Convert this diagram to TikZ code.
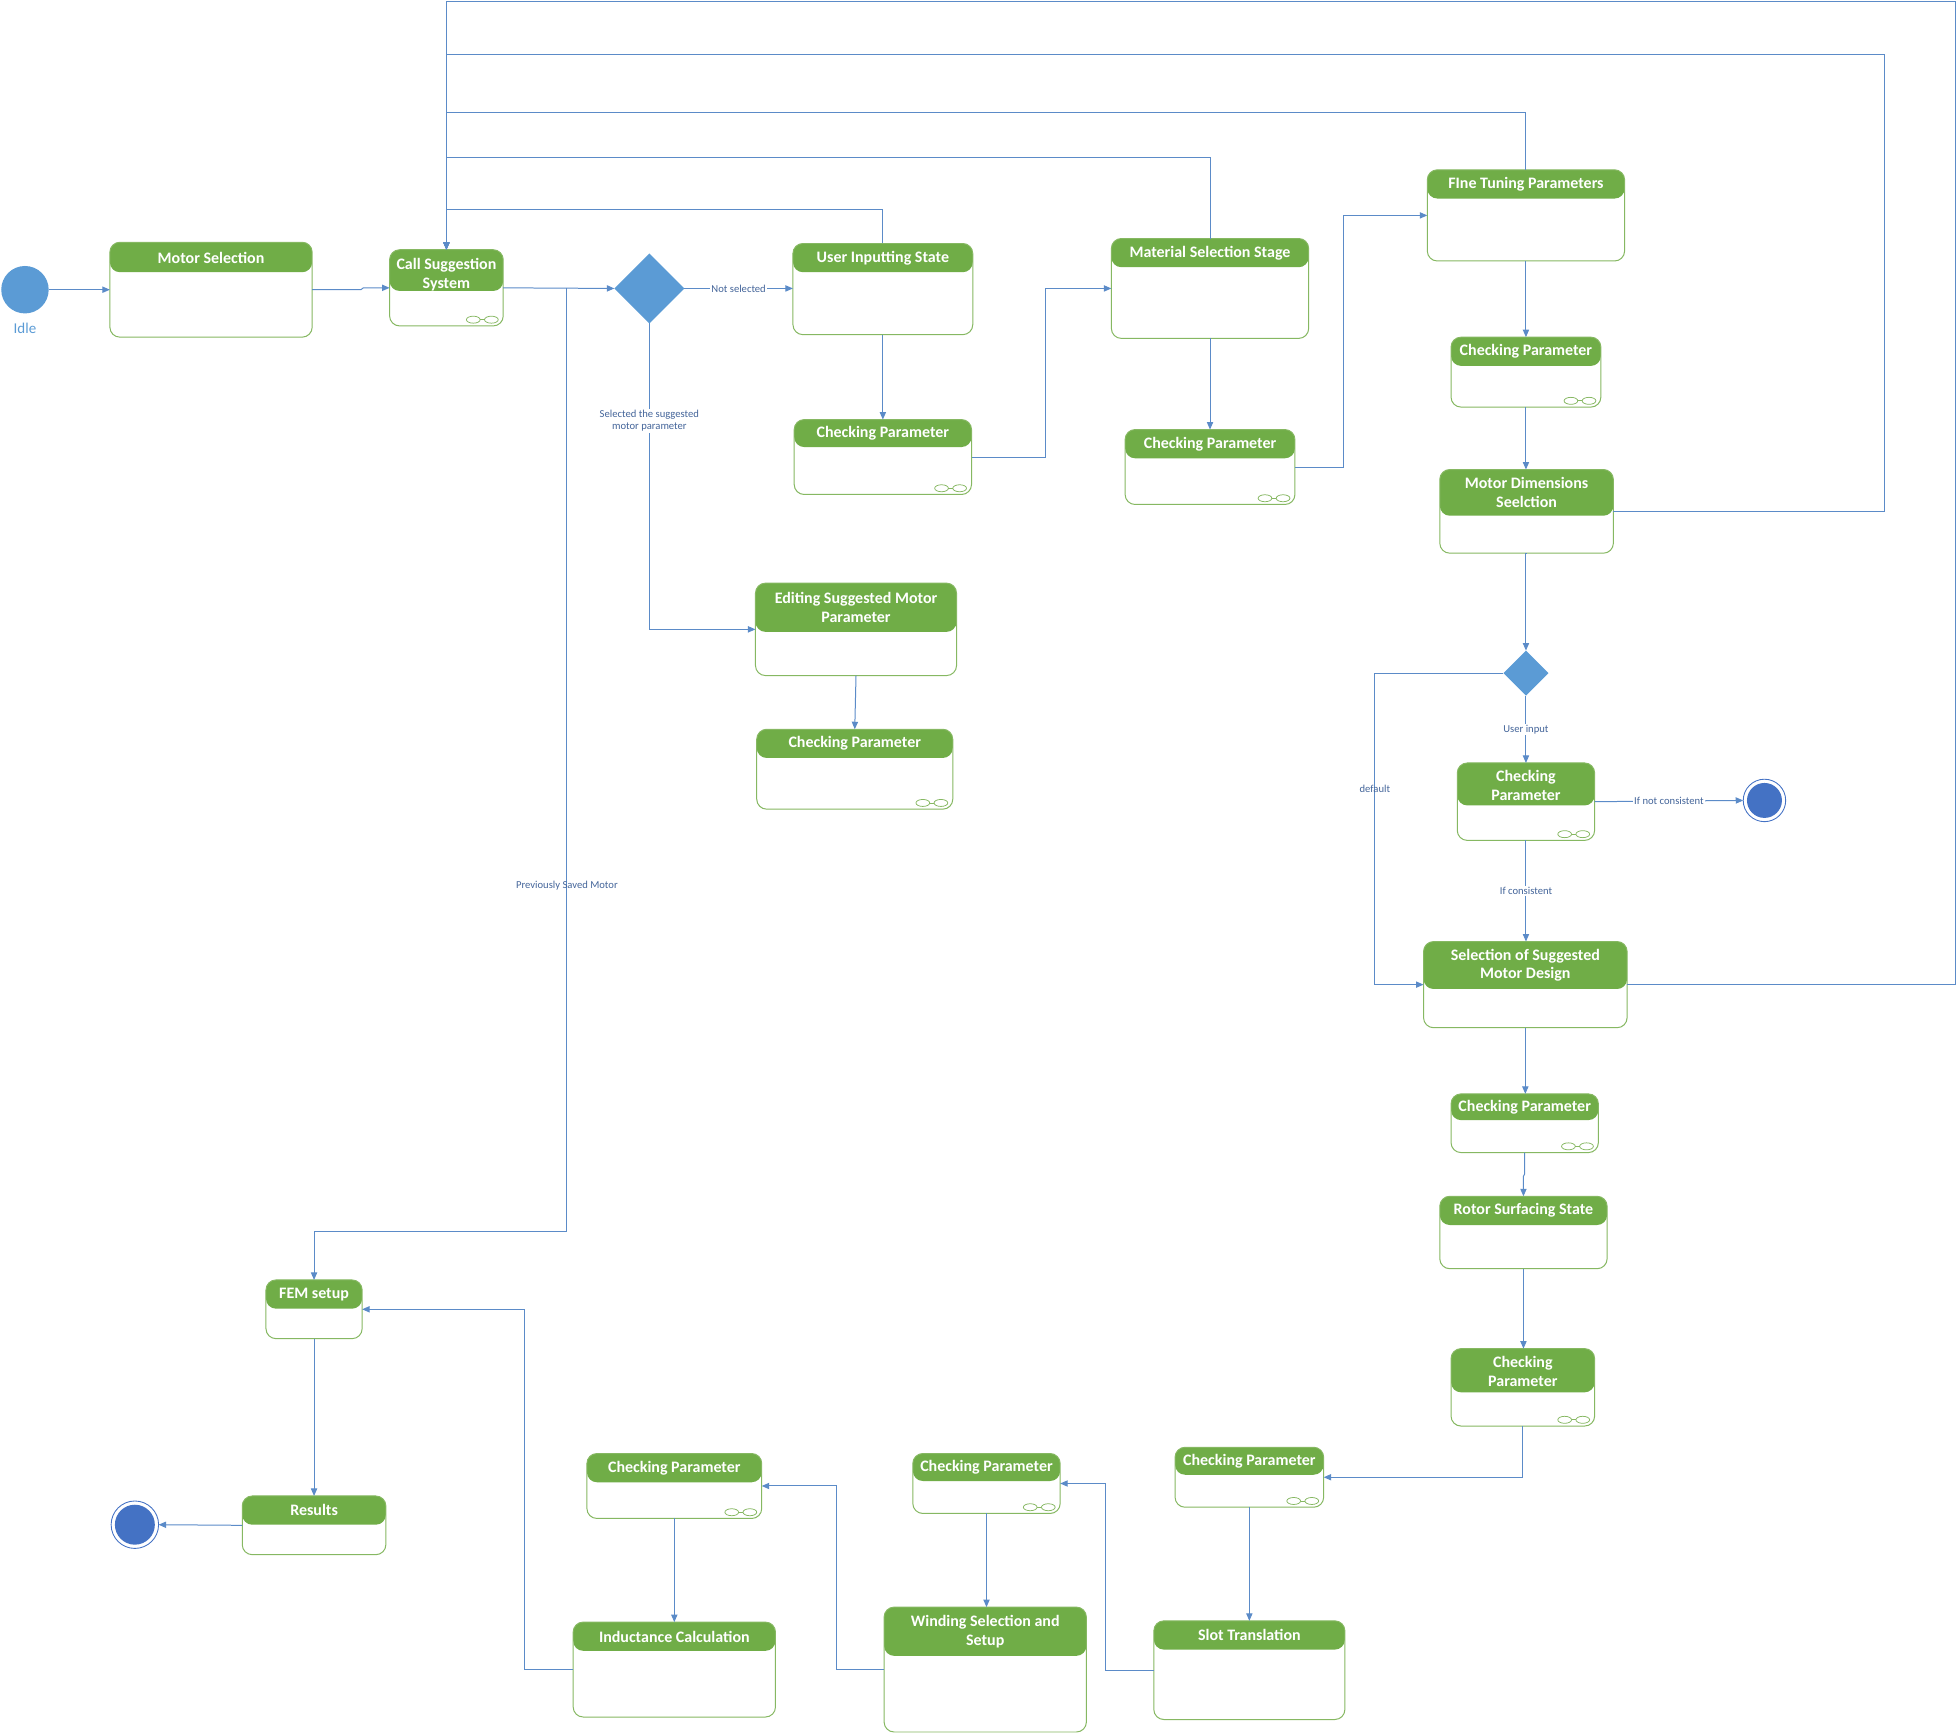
\documentclass[tikz,border=0pt]{standalone}
\usepackage{fontspec}
\setmainfont{Carlito}
\usetikzlibrary{arrows.meta,shapes.geometric,calc}
\definecolor{grn}{HTML}{70AD47}
\definecolor{grnb}{HTML}{86B862}
\definecolor{lnb}{HTML}{5B8BC8}
\definecolor{lbt}{HTML}{44659A}
\definecolor{idleb}{HTML}{5B9BD5}
\definecolor{finb}{HTML}{4472C4}
\tikzset{
  stbox/.style={draw=grnb, line width=0.8pt, rounded corners=8pt, fill=white, inner sep=0pt, outer sep=0pt, anchor=north west},
  sttitle/.style={text=white, font=\fontsize{12.8}{15}\selectfont\bfseries, align=center, inner sep=0pt},
  arr/.style={draw=lnb, line width=0.8pt, -{Triangle[length=6pt,width=5pt]}},
  lbl/.style={text=lbt, font=\fontsize{8.5}{10}\selectfont, align=center, inner sep=1pt},
  lblw/.style={lbl, fill=white},
  icn/.style={draw=grnb, line width=0.6pt},
  dec/.style={diamond, fill=idleb, inner sep=0pt, outer sep=0pt, minimum width=#1, minimum height=#1, shape aspect=1},
}
% name, x, y, width, height, header height, title, title offset
\newcommand\stnodeo[8]{%
  \node[stbox, minimum width=#4pt, minimum height=#5pt,
    path picture={\fill[grn] (path picture bounding box.north west) rectangle ([yshift=-#6pt]path picture bounding box.north east);}]
    (#1) at (#2,#3) {};
  \node[sttitle] (#1-t) at ([yshift=-0.5*#6pt-#8pt]#1.north) {#7};}
\newcommand\stnode[7]{\stnodeo{#1}{#2}{#3}{#4}{#5}{#6}{#7}{0}}
\newcommand\sticon[1]{%
  \draw[icn] ([shift={(-24pt,5pt)}]#1.south east) ellipse [x radius=5.5pt, y radius=2.8pt];
  \draw[icn] ([shift={(-9.5pt,5pt)}]#1.south east) ellipse [x radius=5.5pt, y radius=2.8pt];
  \draw[icn] ([shift={(-18.5pt,5pt)}]#1.south east) -- ([shift={(-15pt,5pt)}]#1.south east);}
\begin{document}
\begin{tikzpicture}[x=1pt,y=-1pt]
\useasboundingbox (0,0) rectangle (1568,1388);

% states
\stnodeo{ms}{88}{194}{162}{76}{24}{Motor Selection}{0.5}
\stnodeo{css}{312}{200}{91}{61}{33}{Call Suggestion\\System}{3.5}\sticon{css}
\stnode{uis}{635}{195}{144}{73}{23}{User Inputting State}
\stnode{cpa}{636}{336}{142}{60}{22}{Checking Parameter}\sticon{cpa}
\stnode{mss}{890}{191}{158}{80}{23}{Material Selection Stage}
\stnode{cpb}{901}{344}{136}{60}{23}{Checking Parameter}\sticon{cpb}
\stnode{ftp}{1143}{136}{158}{73}{23}{FIne Tuning Parameters}
\stnode{cpc}{1162}{270}{120}{56}{23}{Checking Parameter}\sticon{cpc}
\stnode{mds}{1153}{376}{139}{67}{37}{Motor Dimensions\\Seelction}
\stnode{esmp}{605}{467}{161}{74}{39}{Editing Suggested Motor\\Parameter}
\stnode{cpj}{606}{584}{157}{64}{23}{Checking Parameter}\sticon{cpj}
\stnodeo{cpd}{1167}{611}{110}{62}{34}{Checking\\Parameter}{1}\sticon{cpd}
\stnode{ssmd}{1140}{754}{163}{69}{38}{Selection of Suggested\\Motor Design}
\stnode{cpe}{1162}{876}{118}{47}{21}{Checking Parameter}\sticon{cpe}
\stnode{rss}{1153}{958}{134}{58}{23}{Rotor Surfacing State}
\stnodeo{cpf}{1162}{1080}{115}{62}{35}{Checking\\Parameter}{1}\sticon{cpf}
\stnode{cpg}{941}{1159}{119}{48}{22}{Checking Parameter}\sticon{cpg}
\stnode{st}{924}{1298}{153}{79}{23}{Slot Translation}
\stnode{cph}{731}{1164}{118}{48}{22}{Checking Parameter}\sticon{cph}
\stnode{wss}{708}{1287}{162}{100}{39}{Winding Selection and\\Setup}
\stnode{cpi}{470}{1164}{140}{52}{23}{Checking Parameter}\sticon{cpi}
\stnode{ic}{459}{1299}{162}{76}{23}{Inductance Calculation}
\stnode{fem}{213}{1025}{77}{47}{23}{FEM setup}
\stnode{res}{194}{1198}{115}{47}{23}{Results}

% pseudo states
\node[circle, fill=idleb, minimum size=38pt, inner sep=0pt, outer sep=0pt] (init) at (20,232) {};
\node[text=idleb, font=\fontsize{12}{14}\selectfont, inner sep=0pt] (idle) at (20,263) {Idle};
\node[dec=56pt] (da) at (520,231) {};
\node[dec=36pt] (db) at (1222,539) {};
\node[circle, draw=finb, line width=0.7pt, minimum size=34pt, inner sep=0pt, outer sep=0pt,
  path picture={\fill[finb] (path picture bounding box.center) circle (14pt);}] (fina) at (1413,641) {};
\node[circle, draw=finb, line width=0.7pt, minimum size=38pt, inner sep=0pt, outer sep=0pt,
  path picture={\fill[finb] (path picture bounding box.center) circle (16pt);}] (finb) at (108,1221) {};
\coordinate (ja) at (454,230.5);

% main flow
\draw[arr] (init) -- (ms.west |- init);
\draw[arr] (ms.east) -- (289,232) -- (291,230.5) -- (css.west);
\draw[arr] (css.east) -- (da.west);
\draw[arr] (ja) -- node[lbl, pos=0.634] (lpsm) {Previously Saved Motor} (454,986) -| (fem.north);
\draw[arr] (da.east) -- node[lblw, midway] (lns) {Not selected} (da.east -| uis.west);
\draw[arr] (da.south) |- node[lblw, pos=0.159] (lsel) {Selected the suggested\\motor parameter} (esmp.west);
\draw[arr] (uis.south) -- (uis.south |- cpa.north);
\draw[arr] (cpa.east) -- (837,366) |- (mss.west);
\draw[arr] (mss.south) -- (mss.south |- cpb.north);
\draw[arr] (cpb.east) -- (1076,374) |- (ftp.west);
\draw[arr] (ftp.south) -- (ftp.south |- cpc.north);
\draw[arr] (cpc.south) -- (cpc.south |- mds.north);
\draw[arr] (mds.south) -- (mds.south -| db) -- (db.north);
\draw[arr] (esmp.south) -- (cpj.north);
\draw[arr] (db.south) -- node[lblw, midway] (lui) {User input} (cpd.north);
\draw[arr] (db.west) -- (1101,539) |- node[lbl, pos=0.186] (ldef) {default} (ssmd.west);
\draw[arr] (cpd.east) -- node[lblw, midway] (lnc) {If not consistent} (fina.west);
\draw[arr] (cpd.south) -- node[lblw, midway] (lic) {If consistent} (cpd.south |- ssmd.north);
\draw[arr] (ssmd.south) -- (ssmd.south |- cpe.north);
\draw[arr] (cpe.south) -- (1221,940) -- (1220,942) -- (rss.north);
\draw[arr] (rss.south) -- (rss.south |- cpf.north);
\draw[arr] (cpf.south) |- (cpg.east);
\draw[arr] (cpg.south) -- (cpg.south |- st.north);
\draw[arr] (st.west) -- (885,1337.5) |- (cph.east);
\draw[arr] (cph.south) -- (cph.south |- wss.north);
\draw[arr] (wss.west) -- (670,1337) |- (cpi.east);
\draw[arr] (cpi.south) -- (cpi.south |- ic.north);
\draw[arr] (ic.west) -- (420,1337) |- (fem.east);
\draw[arr] (fem.south) -- (res.north);
\draw[arr] (res.west) -- (finb.east);

% feedback loops to Call Suggestion System
\draw[arr] (uis.north) -- (707,168) -| (css.north);
\draw[arr] (mss.north) -- (969,126) -| (css.north);
\draw[arr] (ftp.north) -- (1222,90) -| (css.north);
\draw[arr] (mds.east) -| (1509,44) -| (css.north);
\draw[arr] (ssmd.east) -| (1566,1) -| (css.north);
\end{tikzpicture}
\end{document}
